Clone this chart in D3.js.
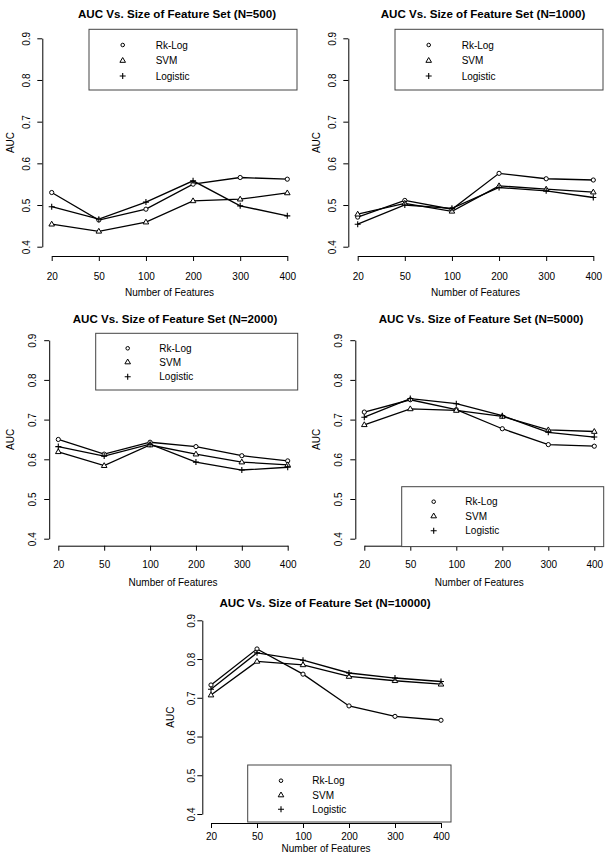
<!DOCTYPE html>
<html><head><meta charset="utf-8">
<script src="https://cdn.jsdelivr.net/npm/d3@7"></script>
<style>body{margin:0;background:#fff}svg{display:block}text{font-family:"Liberation Sans",Arial,sans-serif;fill:#000}</style>
</head><body><svg id="c" width="612" height="860"></svg>
<script>
const features = ["20","50","100","200","300","400"];
const seriesNames = ["Rk-Log","SVM","Logistic"];
const yTicks = [0.4,0.5,0.6,0.7,0.8,0.9];
const titles = ["AUC Vs. Size of Feature Set (N=500)","AUC Vs. Size of Feature Set (N=1000)","AUC Vs. Size of Feature Set (N=2000)","AUC Vs. Size of Feature Set (N=5000)","AUC Vs. Size of Feature Set (N=10000)"];
const xLabel = "Number of Features";
const yLabel = "AUC";

const rkLog500 = [0.530,0.464,0.490,0.550,0.566,0.562];
const svm500   = [0.454,0.437,0.459,0.510,0.514,0.529];
const logit500 = [0.496,0.466,0.507,0.558,0.498,0.474];

const rkLog1000 = [0.471,0.511,0.490,0.576,0.563,0.560];
const svm1000   = [0.478,0.504,0.485,0.546,0.538,0.531];
const logit1000 = [0.454,0.500,0.492,0.542,0.534,0.518];

const rkLog2000 = [0.650,0.613,0.643,0.632,0.609,0.596];
const svm2000   = [0.619,0.584,0.636,0.613,0.593,0.586];
const logit2000 = [0.632,0.608,0.638,0.593,0.573,0.580];

const rkLog5000 = [0.719,0.750,0.725,0.677,0.637,0.633];
const svm5000   = [0.687,0.727,0.723,0.708,0.674,0.670];
const logit5000 = [0.706,0.753,0.740,0.710,0.668,0.656];

const rkLog10000 = [0.733,0.826,0.761,0.679,0.652,0.642];
const svm10000   = [0.707,0.794,0.785,0.755,0.744,0.735];
const logit10000 = [0.722,0.816,0.797,0.764,0.751,0.742];

const panelData = [
  [rkLog500, svm500, logit500],
  [rkLog1000, svm1000, logit1000],
  [rkLog2000, svm2000, logit2000],
  [rkLog5000, svm5000, logit5000],
  [rkLog10000, svm10000, logit10000]
];

// layout (positions only)
const layouts = [
  {x0:51.7,x1:287.3,yLo:246.7,yHi:38.3,axX:42.3,axY:256,tx:177,ty:14,
   lg:{x0:89,x1:297,y0:29.3,y1:90,rows:[45,60.5,76],sx:122.7,tx:155.7},ylx:10,ytl:26.7,xtl:276,xly:292},
  {x0:357.7,x1:593.3,yLo:246.7,yHi:38.3,axX:348.3,axY:256,tx:483,ty:14,
   lg:{x0:395,x1:603,y0:29.3,y1:90,rows:[45,60.5,76],sx:428.7,tx:461.7},ylx:316,ytl:332.7,xtl:276,xly:292},
  {x0:58.3,x1:287.7,yLo:538.7,yHi:340.2,axX:49.2,axY:545.7,tx:175,ty:319.3,
   lg:{x0:95.7,x1:297.7,y0:333.3,y1:390,rows:[348.3,362,376.7],sx:127.7,tx:159.3},ylx:10,ytl:32,xtl:565,xly:582},
  {x0:364.3,x1:594.3,yLo:538.7,yHi:340.2,axX:355.3,axY:545.7,tx:481,ty:319.3,
   lg:{x0:401.7,x1:603.7,y0:486.7,y1:546.6,rows:[501.7,516,530.7],sx:433.7,tx:465.3},ylx:316,ytl:338,xtl:565,xly:582},
  {x0:211,x1:441,yLo:814,yHi:620.3,axX:202.3,axY:823,tx:325,ty:603.3,
   lg:{x0:247.7,x1:451,y0:765,y1:822,rows:[780.7,795,809.3],sx:281,tx:312.3},ylx:170,ytl:191,xtl:836.7,xly:848.3}
];

const svg = d3.select("#c");

function marker(g, type, x, y, s) {
  if (type === 0) {
    g.append("circle").attr("cx",x).attr("cy",y).attr("r",2.1*s)
      .attr("fill","#fff").attr("stroke","#000").attr("stroke-width",1);
  } else if (type === 1) {
    const h = 4.8*s, w = 5.6*s;
    g.append("path").attr("d",`M${x},${y-h*0.62}L${x+w/2},${y+h*0.38}L${x-w/2},${y+h*0.38}Z`)
      .attr("fill","#fff").attr("stroke","#000").attr("stroke-width",1);
  } else {
    const a = 3*s;
    g.append("path").attr("d",`M${x-a},${y}H${x+a}M${x},${y-a}V${y+a}`)
      .attr("stroke","#000").attr("stroke-width",1.1).attr("fill","none");
  }
}

layouts.forEach((L, i) => {
  const g = svg.append("g");
  const x = d3.scalePoint().domain(features).range([L.x0, L.x1]);
  const y = d3.scaleLinear().domain([0.4,0.9]).range([L.yLo, L.yHi]);

  // title
  g.append("text").attr("x",L.tx).attr("y",L.ty).attr("dy","0.35em")
    .attr("text-anchor","middle").style("font-weight","bold").style("font-size","11.6px")
    .text(titles[i]);

  // x axis
  const xa = g.append("g").attr("transform",`translate(0,${L.axY})`)
    .call(d3.axisBottom(x).tickSizeOuter(0).tickSizeInner(5).tickPadding(0));
  xa.select(".domain").attr("stroke","#000");
  xa.selectAll(".tick line").attr("stroke","#000");
  xa.selectAll(".tick text").attr("y", L.xtl - L.axY).attr("dy","0.35em")
    .style("font-size","10px").style("font-family","Liberation Sans, Arial, sans-serif");

  // y axis
  const ya = g.append("g").attr("transform",`translate(${L.axX},0)`)
    .call(d3.axisLeft(y).tickValues(yTicks).tickFormat(d3.format(".1f")).tickSizeOuter(0).tickSizeInner(5));
  ya.select(".domain").attr("stroke","#000");
  ya.selectAll(".tick line").attr("stroke","#000");
  ya.selectAll(".tick text").attr("x",null).attr("dy",null)
    .attr("text-anchor","middle")
    .attr("transform",`translate(${L.ytl - L.axX},0) rotate(-90)`)
    .attr("dy","0.35em")
    .style("font-size","10px").style("font-family","Liberation Sans, Arial, sans-serif");

  // axis labels
  g.append("text").attr("x",(L.x0+L.x1)/2).attr("y",L.xly).attr("dy","0.35em")
    .attr("text-anchor","middle").style("font-size","10px").text(xLabel);
  g.append("text").attr("transform",`translate(${L.ylx},${(L.yLo+L.yHi)/2}) rotate(-90)`)
    .attr("dy","0.35em").attr("text-anchor","middle").style("font-size","10px").text(yLabel);

  // series
  const line = d3.line().x((d,j)=>x(features[j])).y(d=>y(d));
  panelData[i].forEach((vals) => {
    g.append("path").attr("d", line(vals)).attr("fill","none")
      .attr("stroke","#000").attr("stroke-width",1.3);
  });
  panelData[i].forEach((vals, k) => {
    vals.forEach((v,j) => marker(g, k, x(features[j]), y(v), 1));
  });

  // legend
  const lg = L.lg;
  g.append("rect").attr("x",lg.x0).attr("y",lg.y0).attr("width",lg.x1-lg.x0).attr("height",lg.y1-lg.y0)
    .attr("fill","#fff").attr("stroke","#444").attr("stroke-width",1);
  seriesNames.forEach((name,k) => {
    marker(g, k, lg.sx, lg.rows[k], k===0 ? 0.85 : 1);
    g.append("text").attr("x",lg.tx).attr("y",lg.rows[k]).attr("dy","0.35em")
      .style("font-size","10px").text(name);
  });
});
</script>
</body></html>
